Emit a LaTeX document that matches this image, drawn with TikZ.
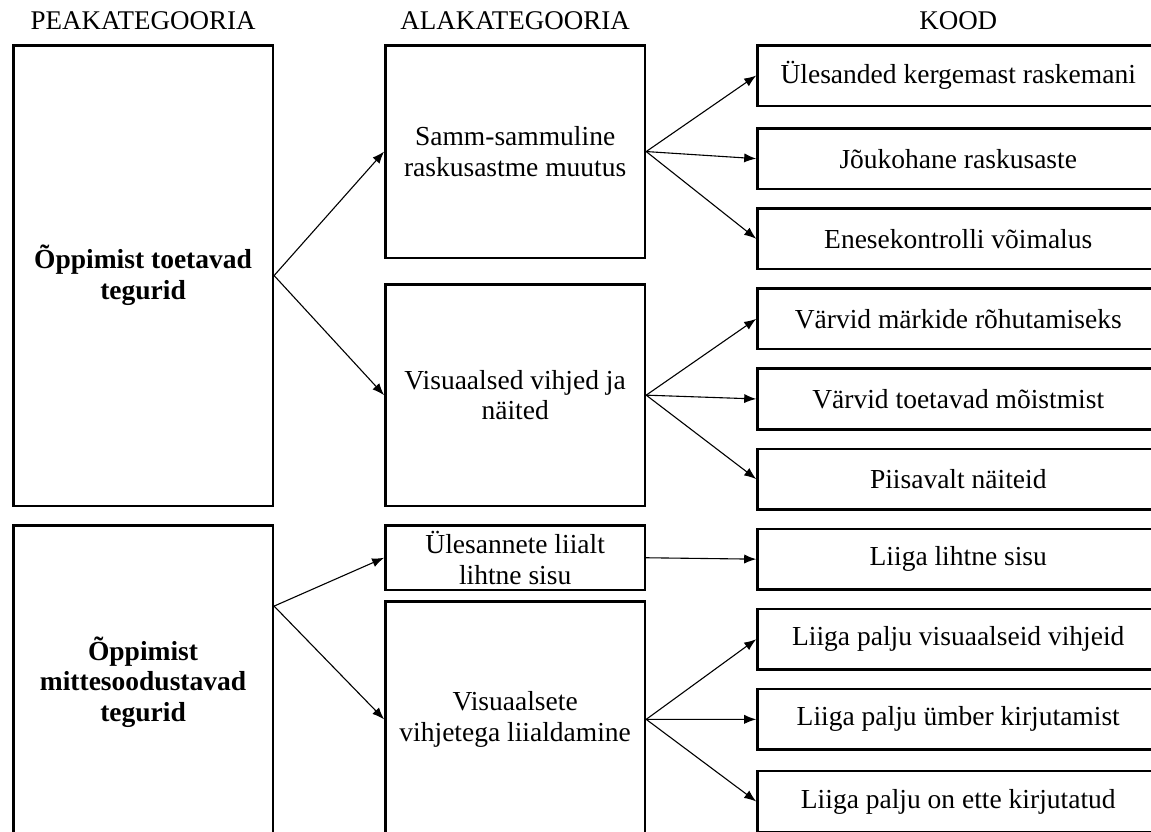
\documentclass[tikz,border=0pt]{standalone}
\usepackage{fontspec}
\setmainfont{Liberation Serif}
\usetikzlibrary{arrows.meta, positioning}
\tikzset{
    % Box looks
    catbox/.style={draw, line width=1.25pt, align=center, inner sep=2pt, font=\fontsize{13.75}{15.4}\selectfont},
    mainbox/.style={catbox, minimum width=129.8pt, font=\fontsize{13.75}{15.4}\selectfont\bfseries},
    subbox/.style={catbox, minimum width=129.8pt},
    codebox/.style={catbox, minimum width=200.8pt, minimum height=30.3pt},
    % Column titles
    headlabel/.style={inner sep=0pt, font=\fontsize{13.5}{15}\selectfont},
    % Connectors
    link/.style={-{Latex[length=6pt, width=4.6pt]}, line width=0.55pt}
}

\begin{document}
\begin{tikzpicture}[x=0.5pt, y=-0.5pt]
        % Page frame (boxes at the right and bottom run off the page)
        \useasboundingbox (0,0) rectangle (1151,831);
        \clip (0,0) rectangle (1151,831);

        % Main categories
        \node[mainbox, minimum height=230.3pt, anchor=north west] (PK1) at (12,44) {Õppimist toetavad\\tegurid};
        \node[mainbox, minimum height=156.8pt, below=8.5pt of PK1] (PK2) {Õppimist\\mittesoodustavad\\tegurid};

        % Subcategories
        \node[subbox, minimum height=106.3pt, right=55pt of PK1.north east, anchor=north west] (AK1) {Samm-sammuline\\raskusastme muutus};
        \node[subbox, minimum height=110.8pt, below=12pt of AK1] (AK2) {Visuaalsed vihjed ja\\näited};
        \node[subbox, minimum height=32.3pt, below=8.5pt of AK2] (AK3) {Ülesannete liialt\\lihtne sisu};
        \node[subbox, minimum height=117.8pt, below=4.5pt of AK3] (AK4) {Visuaalsete\\vihjetega liialdamine};

        % Codes
        \node[codebox, right=55pt of AK1.north east, anchor=north west] (K1) {Ülesanded kergemast raskemani};
        \node[codebox, below=10pt of K1] (K2) {Jõukohane raskusaste};
        \node[codebox, below=8.5pt of K2] (K3) {Enesekontrolli võimalus};
        \node[codebox, below=8.5pt of K3] (K4) {Värvid märkide rõhutamiseks};
        \node[codebox, below=8.5pt of K4] (K5) {Värvid toetavad mõistmist};
        \node[codebox, below=8.5pt of K5] (K6) {Piisavalt näiteid};
        \node[codebox, below=8.5pt of K6] (K7) {Liiga lihtne sisu};
        \node[codebox, below=8.5pt of K7] (K8) {Liiga palju visuaalseid vihjeid};
        \node[codebox, below=8.5pt of K8] (K9) {Liiga palju ümber kirjutamist};
        \node[codebox, below=9.5pt of K9] (K10) {Liiga palju on ette kirjutatud};

        % Column titles
        \node[headlabel, above=7pt of PK1.north, anchor=south] (pklabel) {PEAKATEGOORIA};
        \node[headlabel, above=7pt of AK1.north, anchor=south] (aklabel) {ALAKATEGOORIA};
        \node[headlabel, above=7pt of K1.north, anchor=south] (kodlabel) {KOOD};

        % Main categories to subcategories
        \draw[link] (PK1.east) -- (AK1.west);
        \draw[link] (PK1.east) -- (AK2.west);
        \coordinate (PK2fork) at ([yshift=-41pt]PK2.north east);
        \draw[link] (PK2fork) -- (AK3.west);
        \draw[link] (PK2fork) -- (AK4.west);

        % Subcategories to codes
        \draw[link] (AK1.east) -- (K1.west);
        \draw[link] (AK1.east) -- (K2.west);
        \draw[link] (AK1.east) -- (K3.west);
        \draw[link] (AK2.east) -- (K4.west);
        \draw[link] (AK2.east) -- (K5.west);
        \draw[link] (AK2.east) -- (K6.west);
        \draw[link] (AK3.east) -- (K7.west);
        \draw[link] (AK4.east) -- (K8.west);
        \draw[link] (AK4.east) -- (K9.west);
        \draw[link] (AK4.east) -- (K10.west);
\end{tikzpicture}
\end{document}
